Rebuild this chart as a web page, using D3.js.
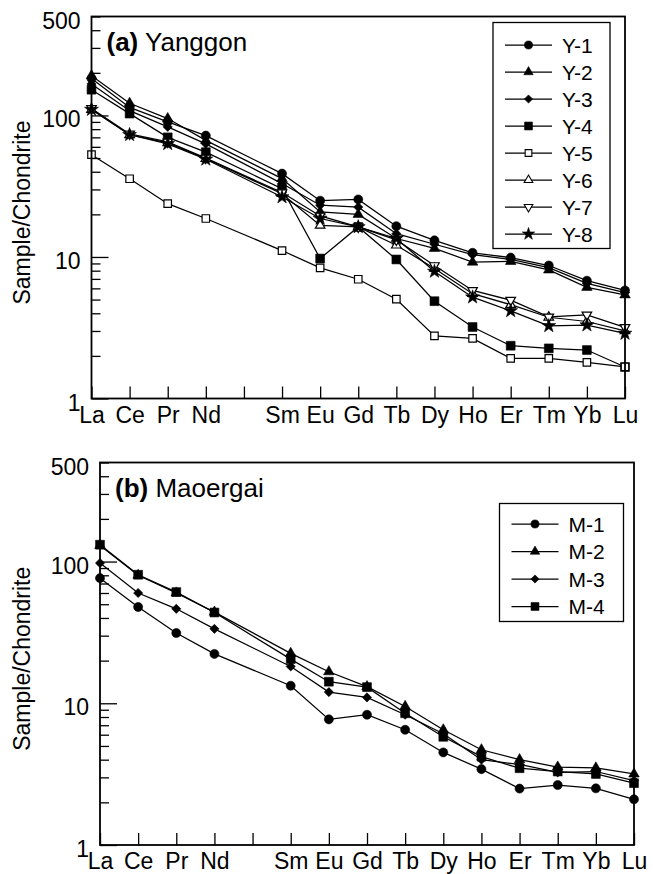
<!DOCTYPE html>
<html>
<head>
<meta charset="utf-8">
<script src="https://cdn.jsdelivr.net/npm/d3@7.9.0/dist/d3.min.js"></script>
<style>
  html, body { margin: 0; padding: 0; background: #fff; }
  svg { display: block; font-family: "Liberation Sans", Arial, sans-serif; }
</style>
</head>
<body>
<svg id="chart" width="653" height="874"></svg>
<script>
// axis categories (Pm keeps its slot but has no data)
const axisElements = ['La', 'Ce', 'Pr', 'Nd', 'Pm', 'Sm', 'Eu', 'Gd', 'Tb', 'Dy', 'Ho', 'Er', 'Tm', 'Yb', 'Lu'];
const elements = ['La', 'Ce', 'Pr', 'Nd', 'Sm', 'Eu', 'Gd', 'Tb', 'Dy', 'Ho', 'Er', 'Tm', 'Yb', 'Lu'];
const tickLabels = ['La', 'Ce', 'Pr', 'Nd', '', 'Sm', 'Eu', 'Gd', 'Tb', 'Dy', 'Ho', 'Er', 'Tm', 'Yb', 'Lu'];
const yLabelValues = [1, 10, 100, 500];

// (a) Yanggon
const seriesA = ['Y-1', 'Y-2', 'Y-3', 'Y-4', 'Y-5', 'Y-6', 'Y-7', 'Y-8'];
const y1 = [182, 114, 90, 72, 38.8, 25, 25.5, 16.5, 13.1, 10.7, 9.9, 8.7, 6.8, 5.8];
const y2 = [191, 122, 95, 66.6, 35.8, 20.8, 20, 13.5, 11.5, 9.2, 9.3, 8.1, 6.1, 5.4];
const y3 = [167, 108, 83, 63, 33, 23.2, 22.5, 14.6, 12.3, 10.4, 9.6, 8.4, 6.5, 5.6];
const y4 = [152, 103, 70, 55, 30.4, 9.75, 16.3, 9.6, 4.87, 3.2, 2.36, 2.26, 2.2, 1.67];
const y5 = [52.8, 35.7, 23.8, 18.7, 11.1, 8.37, 6.96, 5.03, 2.77, 2.66, 1.92, 1.92, 1.8, 1.67];
const y6 = [110, 73, 64, 49.5, 28, 16.7, 16.3, 12.1, 8.3, 5.5, 4.6, 3.75, 3.5, 3.0];
const y7 = [112, 74, 65, 50, 28.5, 19.5, 16.3, 13.2, 8.7, 5.8, 4.95, 3.77, 3.9, 3.18];
const y8 = [110, 73, 63, 49, 26.5, 18.7, 16.3, 13.5, 7.9, 5.2, 4.16, 3.26, 3.3, 2.88];

// (b) Maoergai
const seriesB = ['M-1', 'M-2', 'M-3', 'M-4'];
const m1 = [76.4, 47.8, 31.3, 22.3, 13.3, 7.7, 8.3, 6.5, 4.5, 3.43, 2.5, 2.65, 2.51, 2.1];
const m2 = [130, 80, 60, 44, 22.5, 16.7, 13.1, 9.5, 6.5, 4.7, 4.0, 3.55, 3.5, 3.17];
const m3 = [97.6, 60, 46.4, 33.5, 18.2, 12, 11, 8.3, 6.1, 4.0, 3.7, 3.25, 3.3, 2.85];
const m4 = [131.5, 80.7, 60.9, 43.7, 20.5, 14.2, 13, 8.5, 5.8, 4.2, 3.48, 3.3, 3.17, 2.73];

// marker look per series
const markers = {
  'Y-1': { sym: d3.symbolCircle, size: 64, open: false },
  'Y-2': { sym: d3.symbolTriangle, size: 48, open: false },
  'Y-3': { sym: d3.symbolSquare, size: 42, open: false, rot: 45 },
  'Y-4': { sym: d3.symbolSquare, size: 78, open: false },
  'Y-5': { sym: d3.symbolSquare, size: 56, open: true },
  'Y-6': { sym: d3.symbolTriangle, size: 40, open: true },
  'Y-7': { sym: d3.symbolTriangle, size: 40, open: true, rot: 180 },
  'Y-8': { sym: d3.symbolStar, size: 60, open: false },
  'M-1': { sym: d3.symbolCircle, size: 64, open: false },
  'M-2': { sym: d3.symbolTriangle, size: 48, open: false },
  'M-3': { sym: d3.symbolSquare, size: 42, open: false, rot: 45 },
  'M-4': { sym: d3.symbolSquare, size: 78, open: false },
};

const svg = d3.select('#chart');

function drawPanel(cfg) {
  const { left, right, top, bottom, names, values, title, label, legend } = cfg;

  const x = d3.scalePoint().domain(axisElements).range([left, right]);
  const y = d3.scaleLog().domain([1, 500]).range([bottom, top]);

  const g = svg.append('g');

  // minor y ticks
  const minor = [];
  for (let d = 1; d <= 100; d *= 10) {
    for (let k = 2; k <= 9; k++) if (d * k <= 500) minor.push(d * k);
  }
  g.append('g')
    .attr('transform', `translate(${left},0)`)
    .call(d3.axisLeft(y).tickValues(minor).tickSize(-9).tickFormat(''))
    .call(s => s.select('.domain').remove());

  // major y ticks
  g.append('g')
    .attr('transform', `translate(${left},0)`)
    .call(d3.axisLeft(y).tickValues([1, 10, 100]).tickSize(-17).tickFormat(''))
    .call(s => s.select('.domain').remove());

  // y labels
  g.append('g')
    .attr('transform', `translate(${left},0)`)
    .call(d3.axisLeft(y).tickValues(yLabelValues).tickSize(0).tickPadding(11).tickFormat(d3.format('d')))
    .call(s => s.select('.domain').remove())
    .call(s => s.selectAll('text')
      .attr('dy', '0.5em')
      .style('font-size', '23px')
      .style('font-family', '"Liberation Sans", Arial, sans-serif')
      .attr('fill', '#000'));

  // x ticks + labels
  g.append('g')
    .attr('transform', `translate(0,${bottom})`)
    .call(d3.axisBottom(x).tickSize(-12).tickPadding(8).tickFormat((d, i) => tickLabels[i]))
    .call(s => s.select('.domain').remove())
    .call(s => s.selectAll('text')
      .style('font-size', '23px')
      .style('font-family', '"Liberation Sans", Arial, sans-serif')
      .attr('fill', '#000'));

  g.selectAll('.tick line').attr('stroke', '#000').attr('stroke-width', 1.3);

  // series
  const line = d3.line()
    .x((d, i) => x(elements[i]))
    .y(d => y(d));

  names.forEach((name, si) => {
    g.append('path')
      .datum(values[si])
      .attr('d', line)
      .attr('fill', 'none')
      .attr('stroke', '#000')
      .attr('stroke-width', 1.25);
  });

  names.forEach((name, si) => {
    const m = markers[name];
    const sym = d3.symbol().type(m.sym).size(m.size);
    g.append('g').selectAll('path')
      .data(values[si])
      .join('path')
      .attr('d', sym)
      .attr('transform', (d, i) => `translate(${x(elements[i])},${y(d)}) rotate(${m.rot || 0})`)
      .attr('fill', m.open ? '#fff' : '#000')
      .attr('stroke', '#000')
      .attr('stroke-width', m.open ? 1.2 : 0.6);
  });

  // frame
  g.append('rect')
    .attr('x', left).attr('y', top)
    .attr('width', right - left).attr('height', bottom - top)
    .attr('fill', 'none')
    .attr('stroke', '#000')
    .attr('stroke-width', 1.8);

  // panel title
  const t = g.append('text')
    .attr('x', left + 15)
    .attr('y', top + 34)
    .style('font-size', '26px')
    .attr('fill', '#000');
  t.append('tspan').style('font-weight', 'bold').text(title[0]);
  t.append('tspan').text(' ' + title[1]);

  // y axis title
  g.append('text')
    .attr('transform', `translate(30,${(top + bottom) / 2 + 5}) rotate(-90)`)
    .attr('text-anchor', 'middle')
    .style('font-size', '23px')
    .attr('fill', '#000')
    .text(label);

  // legend
  const lg = g.append('g');
  lg.append('rect')
    .attr('x', legend.x).attr('y', legend.y)
    .attr('width', legend.w).attr('height', legend.h)
    .attr('fill', '#fff')
    .attr('stroke', '#000')
    .attr('stroke-width', 1.3);

  names.forEach((name, i) => {
    const cy = legend.y + legend.first + i * legend.step;
    const x0 = legend.x + 12;
    const x1 = x0 + 47;
    lg.append('line')
      .attr('x1', x0).attr('x2', x1)
      .attr('y1', cy).attr('y2', cy)
      .attr('stroke', '#000').attr('stroke-width', 1.25);
    const m = markers[name];
    lg.append('path')
      .attr('d', d3.symbol().type(m.sym).size(m.size * 0.8)())
      .attr('transform', `translate(${(x0 + x1) / 2},${cy}) rotate(${m.rot || 0})`)
      .attr('fill', m.open ? '#fff' : '#000')
      .attr('stroke', '#000')
      .attr('stroke-width', m.open ? 1.1 : 0.6);
    lg.append('text')
      .attr('x', x1 + 10)
      .attr('y', cy + 7.5)
      .style('font-size', '21px')
      .attr('fill', '#000')
      .text(name);
  });
}

drawPanel({
  left: 91.5, right: 625, top: 16.5, bottom: 398.5,
  names: seriesA,
  values: [y1, y2, y3, y4, y5, y6, y7, y8],
  title: ['(a)', 'Yanggon'],
  label: 'Sample/Chondrite',
  legend: { x: 493, y: 22.5, w: 117, h: 226, first: 22.5, step: 27 },
});

drawPanel({
  left: 100, right: 634, top: 462.5, bottom: 845,
  names: seriesB,
  values: [m1, m2, m3, m4],
  title: ['(b)', 'Maoergai'],
  label: 'Sample/Chondrite',
  legend: { x: 499.5, y: 503.5, w: 124, h: 118, first: 20.5, step: 27.5 },
});
</script>
</body>
</html>
